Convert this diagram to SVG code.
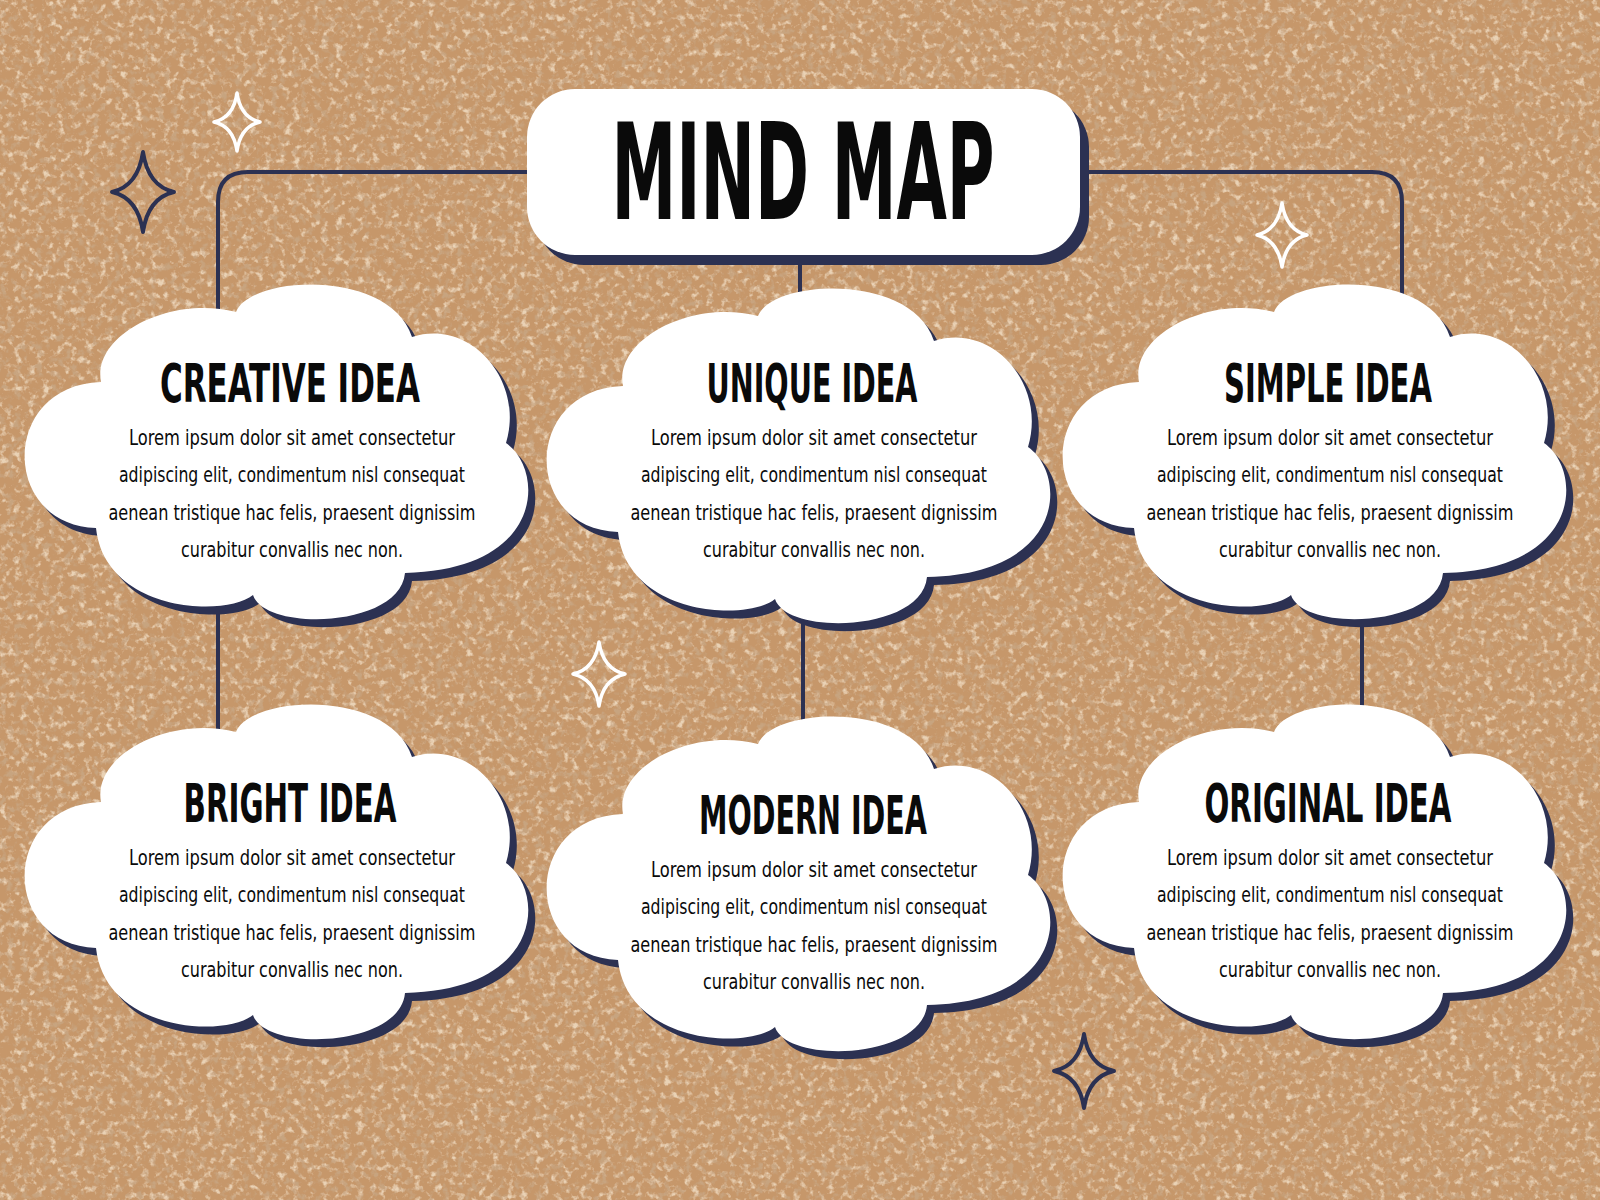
<svg xmlns="http://www.w3.org/2000/svg" xmlns:xlink="http://www.w3.org/1999/xlink" width="1600" height="1200" viewBox="0 0 1600 1200">
<style>
.conn{fill:none;stroke:#2c3152;stroke-width:4;stroke-linecap:round;stroke-linejoin:round}
.shadow{fill:#2c3152}
.white{fill:#ffffff}
.title{font-family:"Liberation Sans Narrow","DejaVu Sans Condensed","Liberation Sans",sans-serif;font-weight:bold;font-size:54px;fill:#0a0a0a;text-anchor:middle}
.body{font-family:"Liberation Sans Narrow","DejaVu Sans Condensed","Liberation Sans",sans-serif;font-size:21px;fill:#0a0a0a;text-anchor:middle}
.main{font-family:"Liberation Sans Narrow","DejaVu Sans Condensed","Liberation Sans",sans-serif;font-weight:bold;font-size:134px;fill:#0a0a0a;text-anchor:middle}
.spark-w{fill:none;stroke:#ffffff;stroke-width:3.5;stroke-linejoin:round}
.spark-n{fill:none;stroke:#2c3152;stroke-width:4;stroke-linejoin:round}
</style>
<defs>
<filter id="cork" x="0" y="0" width="100%" height="100%">
<feTurbulence type="fractalNoise" baseFrequency="0.14" numOctaves="3" seed="7" result="n"/>
<feColorMatrix in="n" type="matrix" values="0 0 0 0 0.95  0 0 0 0 0.83  0 0 0 0 0.67  4 0 0 0 -2.1" result="light"/>
<feColorMatrix in="n" type="matrix" values="0 0 0 0 0.58  0 0 0 0 0.40  0 0 0 0 0.25  0 -4 0 0 1.95" result="dark"/>
<feMerge><feMergeNode in="light"/><feMergeNode in="dark"/></feMerge>
</filter>
<path id="cloud" d="M101 382 C92 335 170 295 236 312 C250 275 390 268 412 337 C470 318 525 380 506 443 C545 470 545 570 405 573 C400 628 265 632 253 595 C225 618 105 612 96 528 C0 525 0 385 101 382 Z"/>
</defs>

<rect x="0" y="0" width="1600" height="1200" fill="#c6976a"/>
<rect x="0" y="0" width="1600" height="1200" fill="#000" filter="url(#cork)" opacity="0.7"/>

<g id="sparkles">
<path class="spark-n" d="M143 152 Q148 186 174 192 Q148 198 143 232 Q138 198 112 192 Q138 186 143 152 Z"/>
<path class="spark-w" d="M237 93 Q240.5 117.5 260 122 Q240.5 126.5 237 151 Q233.5 126.5 214 122 Q233.5 117.5 237 93 Z"/>
<path class="spark-w" d="M1282 203 Q1286 230 1307 235 Q1286 240 1282 267 Q1278 240 1257 235 Q1278 230 1282 203 Z"/>
<path class="spark-w" d="M599 642 Q603 669 625 674 Q603 679 599 706 Q595 679 573 674 Q595 669 599 642 Z"/>
<path class="spark-n" d="M1084 1034 Q1088.5 1065.5 1114 1071 Q1088.5 1076.5 1084 1108 Q1079.5 1076.5 1054 1071 Q1079.5 1065.5 1084 1034 Z"/>
</g>

<g id="connectors">
<path class="conn" d="M540 172 H248 Q218 172 218 202 V330"/>
<path class="conn" d="M1070 172 H1372 Q1402 172 1402 202 V330"/>
<path class="conn" d="M800 250 V320"/>
<path class="conn" d="M218 590 V740"/>
<path class="conn" d="M803 590 V740"/>
<path class="conn" d="M1362 590 V730"/>
</g>

<g id="title">
<rect class="shadow" x="536" y="99" width="553" height="166" rx="48"/>
<rect class="white" x="527" y="89" width="553" height="166" rx="48"/>
<text class="main" x="803" y="219" textLength="383" lengthAdjust="spacingAndGlyphs">MIND MAP</text>
</g>

<g id="creative-idea" transform="translate(0,0)">
<use href="#cloud" class="shadow" transform="translate(7,8)"/>
<use href="#cloud" class="white"/>
<text class="title" x="290" y="402" textLength="260" lengthAdjust="spacingAndGlyphs">CREATIVE IDEA</text>
<text class="body" x="292" y="445" textLength="326" lengthAdjust="spacingAndGlyphs">Lorem ipsum dolor sit amet consectetur</text>
<text class="body" x="292" y="482" textLength="346" lengthAdjust="spacingAndGlyphs">adipiscing elit, condimentum nisl consequat</text>
<text class="body" x="292" y="520" textLength="367" lengthAdjust="spacingAndGlyphs">aenean tristique hac felis, praesent dignissim</text>
<text class="body" x="292" y="557" textLength="222" lengthAdjust="spacingAndGlyphs">curabitur convallis nec non.</text>
</g>

<g id="unique-idea" transform="translate(522,4)">
<use href="#cloud" class="shadow" transform="translate(7,8)"/>
<use href="#cloud" class="white"/>
<text class="title" x="290" y="398" textLength="211" lengthAdjust="spacingAndGlyphs">UNIQUE IDEA</text>
<text class="body" x="292" y="441" textLength="326" lengthAdjust="spacingAndGlyphs">Lorem ipsum dolor sit amet consectetur</text>
<text class="body" x="292" y="478" textLength="346" lengthAdjust="spacingAndGlyphs">adipiscing elit, condimentum nisl consequat</text>
<text class="body" x="292" y="516" textLength="367" lengthAdjust="spacingAndGlyphs">aenean tristique hac felis, praesent dignissim</text>
<text class="body" x="292" y="553" textLength="222" lengthAdjust="spacingAndGlyphs">curabitur convallis nec non.</text>
</g>

<g id="simple-idea" transform="translate(1038,0)">
<use href="#cloud" class="shadow" transform="translate(7,8)"/>
<use href="#cloud" class="white"/>
<text class="title" x="290" y="402" textLength="208" lengthAdjust="spacingAndGlyphs">SIMPLE IDEA</text>
<text class="body" x="292" y="445" textLength="326" lengthAdjust="spacingAndGlyphs">Lorem ipsum dolor sit amet consectetur</text>
<text class="body" x="292" y="482" textLength="346" lengthAdjust="spacingAndGlyphs">adipiscing elit, condimentum nisl consequat</text>
<text class="body" x="292" y="520" textLength="367" lengthAdjust="spacingAndGlyphs">aenean tristique hac felis, praesent dignissim</text>
<text class="body" x="292" y="557" textLength="222" lengthAdjust="spacingAndGlyphs">curabitur convallis nec non.</text>
</g>

<g id="bright-idea" transform="translate(0,420)">
<use href="#cloud" class="shadow" transform="translate(7,8)"/>
<use href="#cloud" class="white"/>
<text class="title" x="290" y="402" textLength="213" lengthAdjust="spacingAndGlyphs">BRIGHT IDEA</text>
<text class="body" x="292" y="445" textLength="326" lengthAdjust="spacingAndGlyphs">Lorem ipsum dolor sit amet consectetur</text>
<text class="body" x="292" y="482" textLength="346" lengthAdjust="spacingAndGlyphs">adipiscing elit, condimentum nisl consequat</text>
<text class="body" x="292" y="520" textLength="367" lengthAdjust="spacingAndGlyphs">aenean tristique hac felis, praesent dignissim</text>
<text class="body" x="292" y="557" textLength="222" lengthAdjust="spacingAndGlyphs">curabitur convallis nec non.</text>
</g>

<g id="modern-idea" transform="translate(522,432)">
<use href="#cloud" class="shadow" transform="translate(7,8)"/>
<use href="#cloud" class="white"/>
<text class="title" x="291" y="402" textLength="228" lengthAdjust="spacingAndGlyphs">MODERN IDEA</text>
<text class="body" x="292" y="445" textLength="326" lengthAdjust="spacingAndGlyphs">Lorem ipsum dolor sit amet consectetur</text>
<text class="body" x="292" y="482" textLength="346" lengthAdjust="spacingAndGlyphs">adipiscing elit, condimentum nisl consequat</text>
<text class="body" x="292" y="520" textLength="367" lengthAdjust="spacingAndGlyphs">aenean tristique hac felis, praesent dignissim</text>
<text class="body" x="292" y="557" textLength="222" lengthAdjust="spacingAndGlyphs">curabitur convallis nec non.</text>
</g>

<g id="original-idea" transform="translate(1038,420)">
<use href="#cloud" class="shadow" transform="translate(7,8)"/>
<use href="#cloud" class="white"/>
<text class="title" x="290" y="402" textLength="247" lengthAdjust="spacingAndGlyphs">ORIGINAL IDEA</text>
<text class="body" x="292" y="445" textLength="326" lengthAdjust="spacingAndGlyphs">Lorem ipsum dolor sit amet consectetur</text>
<text class="body" x="292" y="482" textLength="346" lengthAdjust="spacingAndGlyphs">adipiscing elit, condimentum nisl consequat</text>
<text class="body" x="292" y="520" textLength="367" lengthAdjust="spacingAndGlyphs">aenean tristique hac felis, praesent dignissim</text>
<text class="body" x="292" y="557" textLength="222" lengthAdjust="spacingAndGlyphs">curabitur convallis nec non.</text>
</g>
</svg>
